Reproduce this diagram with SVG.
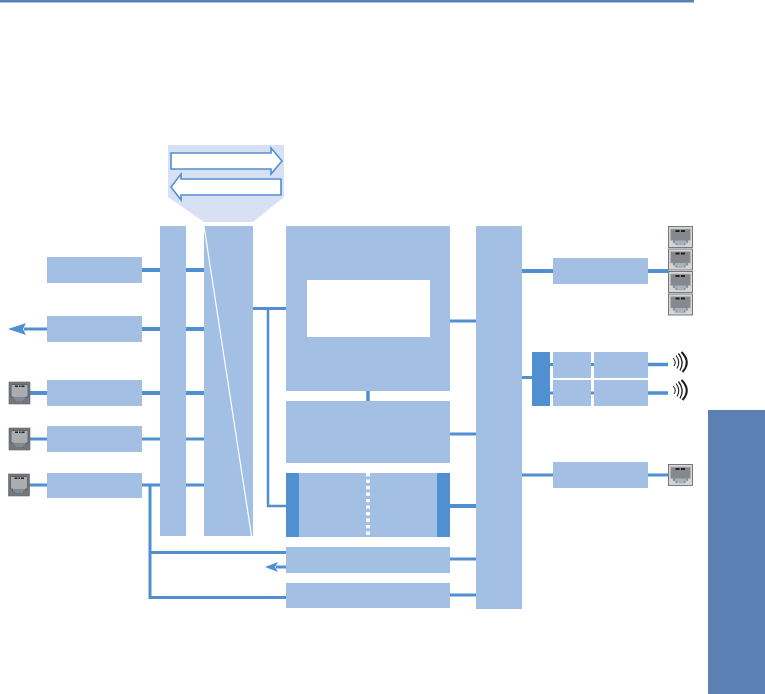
<svg xmlns="http://www.w3.org/2000/svg" xmlns:xlink="http://www.w3.org/1999/xlink" width="765" height="694" viewBox="0 0 765 694">
<style>
.b{fill:#a3bfe4}
.d{fill:#5190d0}
.l{stroke:#5190d0;fill:none}
.w{stroke:#5190d0;stroke-width:1.6;fill:#fff}
.a{stroke:#1c1c1c;fill:none}
</style>
<defs>
<g id="portDark">
<rect x="0" y="0" width="21" height="22" fill="#74777c" stroke="#5f6266" stroke-width="0.6"/>
<path d="M2 2.500H19V15H16.500V17.500H14.500V19.500H6.500V17.500H4.500V15H2Z" fill="#a9acb0" stroke="#44474b" stroke-width="0.6"/>
<path d="M4.500 15H16.500V17.500H14.500V19.500H6.500V17.500H4.500Z" fill="#7f8a91"/>
<rect x="6" y="3.500" width="3" height="1.500" fill="#222"/><rect x="10" y="3.500" width="1.500" height="1.500" fill="#222"/><rect x="12.500" y="3.500" width="3" height="1.500" fill="#222"/>
</g>
<g id="portLight">
<rect x="0" y="0" width="24" height="21" fill="#d3d5d6" stroke="#6a6d71" stroke-width="0.9"/>
<path d="M2 2.500H22V14H19.500V16.500H17V18.500H7V16.500H4.500V14H2Z" fill="#85888c" stroke="#b3b6b9" stroke-width="0.7"/>
<path d="M6.500 14H17.500V16.500H15.500V18.500H8.500V16.500H6.500Z" fill="#a8b4bd"/>
<rect x="7" y="3.500" width="4" height="2" fill="#222"/><rect x="12.500" y="3.500" width="4" height="2" fill="#222"/>
</g>
<g id="wave">
<path class="a" d="M-1 -4Q3 0 0 4" stroke-width="1"/>
<path class="a" d="M2 -6.500Q7 0 3 6.500" stroke-width="1.100"/>
<path class="a" d="M4.500 -8.500Q11 0 6 8.500" stroke-width="1.300"/>
<path class="a" d="M7.500 -10Q17.500 0 8.500 10" stroke-width="2"/>
</g>
</defs>
<rect id="background" width="765" height="694" fill="#fff"/>
<rect id="top-rule" x="0" y="0" width="694" height="2.500" fill="#5b80b4"/>
<rect id="side-tab" x="708" y="410" width="57" height="284" fill="#5b80b4"/>

<g id="connectors">
<path class="l" stroke-width="4" d="M142 270H160M186 270H204M142 329H160M186 329H204M142 393H160M186 393H204"/>
<path class="l" stroke-width="3" d="M142 439H160M186 439H204M142 485H160M186 485H204M253 308.500H286"/>
<path class="l" stroke-width="4" d="M29 393H47"/>
<path class="l" stroke-width="3" d="M29 439H47M29 485H47M24 329H47"/>
<path d="M8 329L26 323L23 329L26 335Z" class="d"/>
<path class="l" stroke-width="2.500" d="M268 308V506H286"/>
<path class="l" stroke-width="3.500" d="M368 391V401"/>
<path class="l" stroke-width="3" d="M450 321H476M450 434H476M450 559H476M450 595H476"/>
<path class="l" stroke-width="4" d="M450 506H476"/>
<path class="l" stroke-width="3" d="M150 485V552.500H286M150 552.500V597.500H286"/>
<path class="l" stroke-width="3" d="M276 567H286"/>
<path d="M265 567L278 562L275 567L278 572Z" class="d"/>
<path class="l" stroke-width="4" d="M522 271H553M648 271H668"/>
<path class="l" stroke-width="3" d="M522 377.500H532M522 475H553M648 475H668"/>
<path class="l" stroke-width="3" d="M550 364.500H553M550 393H553M591 364.500H594M591 393H594"/>
<path class="l" stroke-width="3.500" d="M648 364.500H668M648 393H668"/>
</g>

<g id="zoom-callout">
<path d="M168 145H284V197L253 222H204L168 197Z" fill="#d8e1f4"/>
<path class="w" d="M171 153H271V148L282 161L271 174V169H171Z"/>
<path class="w" d="M281 179H181V174L171 187L181 200V195H281Z"/>
</g>

<g id="node-left-1"><rect class="b" x="47" y="257" width="95" height="26"/></g>
<g id="node-left-2"><rect class="b" x="47" y="316" width="95" height="26"/></g>
<g id="node-left-3"><rect class="b" x="47" y="380" width="95" height="26"/></g>
<g id="node-left-4"><rect class="b" x="47" y="426" width="95" height="26"/></g>
<g id="node-left-5"><rect class="b" x="47" y="473" width="95" height="25"/></g>
<g id="port-left-1"><use xlink:href="#portDark" href="#portDark" x="9" y="382"/></g>
<g id="port-left-2"><use xlink:href="#portDark" href="#portDark" x="9" y="428"/></g>
<g id="port-left-3"><use xlink:href="#portDark" href="#portDark" x="8.500" y="474"/></g>

<g id="node-bus"><rect class="b" x="160" y="226" width="26" height="310"/></g>
<g id="node-wedge">
<rect class="b" x="204" y="226" width="49" height="310"/>
<path d="M204 226L251.500 536" stroke="#fff" stroke-width="1.200" fill="none"/>
</g>

<g id="node-center-top">
<rect class="b" x="286" y="226" width="164" height="165"/>
<rect x="307" y="280" width="123" height="57" fill="#fff"/>
</g>
<g id="node-center-2"><rect class="b" x="286" y="401" width="164" height="62"/></g>
<g id="node-center-3">
<rect class="b" x="286" y="473" width="164" height="64"/>
<rect class="d" x="286" y="473" width="13" height="64"/>
<rect class="d" x="437" y="473" width="13" height="64"/>
<path d="M368 473V537" stroke="#fff" stroke-width="4" stroke-dasharray="3.300 3.200" fill="none"/>
</g>
<g id="node-center-4"><rect class="b" x="286" y="547" width="164" height="26"/></g>
<g id="node-center-5"><rect class="b" x="286" y="583" width="164" height="25"/></g>
<g id="node-right-bus"><rect class="b" x="476" y="226" width="46" height="383"/></g>

<g id="node-right-1"><rect class="b" x="553" y="258" width="95" height="26"/></g>
<g id="node-radio-mux"><rect class="d" x="532" y="352" width="18" height="54"/></g>
<g id="node-radio-1a"><rect class="b" x="553" y="352" width="38" height="26"/></g>
<g id="node-radio-1b"><rect class="b" x="594" y="352" width="54" height="26"/></g>
<g id="node-radio-2a"><rect class="b" x="553" y="380" width="38" height="26"/></g>
<g id="node-radio-2b"><rect class="b" x="594" y="380" width="54" height="26"/></g>
<g id="node-right-3"><rect class="b" x="553" y="462" width="95" height="26"/></g>

<g id="port-right-1"><use xlink:href="#portLight" href="#portLight" x="668.500" y="226.500"/></g>
<g id="port-right-2"><use xlink:href="#portLight" href="#portLight" x="668.500" y="249"/></g>
<g id="port-right-3"><use xlink:href="#portLight" href="#portLight" x="668.500" y="271.500"/></g>
<g id="port-right-4"><use xlink:href="#portLight" href="#portLight" x="668.500" y="294"/></g>
<g id="port-right-5"><use xlink:href="#portLight" href="#portLight" x="668.500" y="464.500"/></g>
<g id="antenna-1"><use xlink:href="#wave" href="#wave" x="674" y="362"/></g>
<g id="antenna-2"><use xlink:href="#wave" href="#wave" x="674" y="390"/></g>
</svg>
